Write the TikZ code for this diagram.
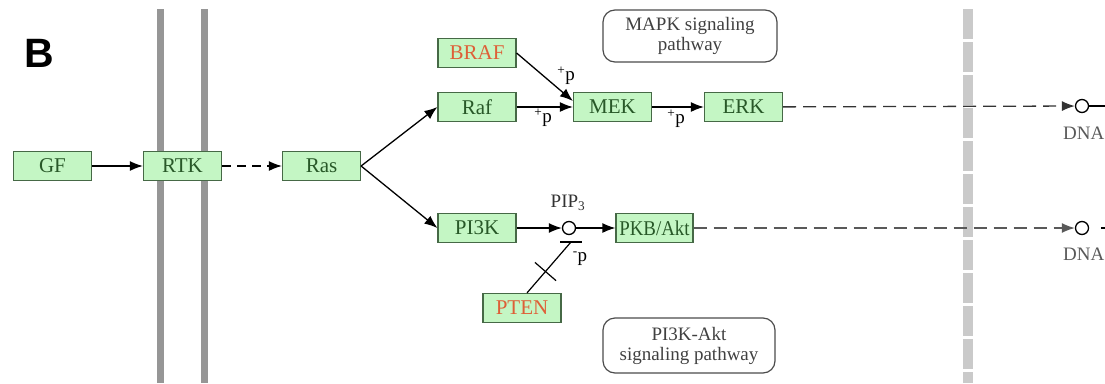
\documentclass[tikz,border=0pt]{standalone}
\usepackage{fontspec}
\setmainfont{Liberation Serif}
\newfontfamily\panelfont{Liberation Sans}
\usetikzlibrary{arrows.meta,calc}

\definecolor{genefill}{RGB}{196,246,196}
\definecolor{genedraw}{RGB}{70,105,70}
\definecolor{genetext}{RGB}{40,88,40}
\definecolor{mutant}{RGB}{222,95,55}
\definecolor{membrane}{RGB}{150,150,150}
\definecolor{nucleus}{RGB}{202,202,202}

\begin{document}
\begin{tikzpicture}[x=1pt,y=-1pt,
  every node/.style={inner sep=0pt,font=\fontsize{19}{20}\selectfont},
  gene/.style={draw=genedraw,fill=genefill,line width=1.2pt,minimum width=78pt,minimum height=29pt,text=genetext,font=\fontsize{21}{22}\selectfont},
  pathway/.style={draw=black!70,rounded corners=12pt,line width=1.2pt,align=center,text=black!75},
  act/.style={line width=1.3pt,-{Latex[length=13pt,width=10pt]}},
  indirect/.style={act,dash pattern=on 13pt off 7pt},
  compound/.style={circle,draw,line width=1.3pt,minimum size=13pt,fill=white},
  mem/.style={line width=7pt,draw=membrane},
  ]
\useasboundingbox (0,0) rectangle (1105,383);
\clip (0,0) rectangle (1105,383);
% membranes
\draw [mem] (160,9) -- (160,383);
\draw [mem] (204,9) -- (204,383);
\draw [line width=10pt,draw=nucleus,dash pattern=on 30pt off 3pt] (968,9) -- (968,383);

\node [font=\panelfont\bfseries\fontsize{41}{41}\selectfont] (panel) at (39,53) {B};

\node [gene] (gf) at (52.5,166) {GF};
\node [gene] (rtk) at (182.5,166) {RTK};
\node [gene] (ras) at (321.5,166) {Ras};
\node [gene,text=mutant] (braf) at (477,53) {BRAF};
\node [gene] (raf) at (477,107) {Raf};
\node [gene] (mek) at (612.5,107) {MEK};
\node [gene] (erk) at (743.5,107) {ERK};
\node [gene] (pi3k) at (477,228) {PI3K};
\node [gene,minimum width=77pt] (pkb) at (654.5,228) {\scalebox{0.9}[1]{PKB/Akt}};
\node [gene,text=mutant] (pten) at (522,308) {PTEN};

\node [compound] (pip3) at (569,228) {};
\node [text=black!80] (pip3label) at (568,203) {PIP\textsubscript{3}};
\node [compound] (dna1) at (1082,106) {};
\node [compound] (dna2) at (1082,228) {};
\node [anchor=west,text=black!65] (dna1label) at (1063,133) {DNA};
\node [anchor=west,text=black!65] (dna2label) at (1063,254) {DNA};

\node [pathway,minimum width=174pt,minimum height=52pt] (mapk) at (690,36) {MAPK signaling\\pathway};
\node [pathway,minimum width=172pt,minimum height=55pt] (pi3kakt) at (689,345.5) {PI3K-Akt\\signaling pathway};

\draw [act] (gf) -- (rtk);
\draw [act,dash pattern=on 9pt off 6pt] (rtk) -- (ras);
\draw [act] (ras.east) -- (raf.west);
\draw [act] (ras.east) -- (pi3k.west);
\draw [act] (braf.east) -- ([yshift=6pt]mek.west);
\draw [act] (raf) -- (mek);
\draw [act] (mek) -- (erk);
\draw [act] (pi3k) -- (pip3);
\draw [act] (pip3) -- (pkb);
\draw [indirect,draw=black!80] (erk) -- (dna1);
\draw [indirect,draw=black!65] (pkb) -- (dna2);
\draw [line width=1.3pt] (dna1.east) -- (1105,106);
\draw [line width=1.3pt,dash pattern=on 0pt off 12pt on 14pt off 7pt] (dna2.east) -- (1110,228);

\node (p1) at (566,76) {\textsuperscript{+}p};
\node (p2) at (543,118) {\textsuperscript{+}p};
\node (p3) at (676,119) {\textsuperscript{+}p};
\node (p4) at (580,259) {\textsuperscript{-}p};

% PTEN inhibition
\coordinate (bar) at (571,242);
\coordinate (ptenfoot) at ([xshift=5pt]pten.north);
\draw [line width=1.3pt] ([xshift=-11pt]bar) -- ([xshift=11pt]bar);
\draw [line width=1.2pt] (ptenfoot) -- (bar);
\coordinate (cross) at ($(ptenfoot)!0.42!(bar)$);
\draw [line width=1.2pt] ($(cross)!14pt!90:(bar)$) -- ($(cross)!14pt!-90:(bar)$);
\end{tikzpicture}
\end{document}
